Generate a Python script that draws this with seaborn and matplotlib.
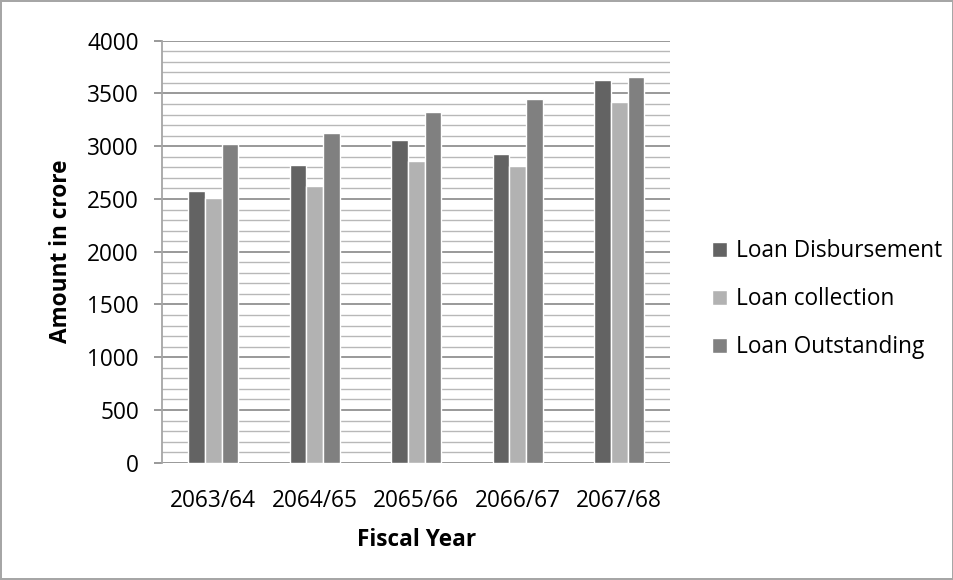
import pandas as pd
import numpy as np
import seaborn as sns
import matplotlib.pyplot as plt
from matplotlib.ticker import MultipleLocator

# data
years = ['2063/64', '2064/65', '2065/66', '2066/67', '2067/68']
disbursement = [2580, 2823, 3061, 2928, 3630]
collection = [2510, 2620, 2858, 2810, 3417]
outstanding = [3023, 3127, 3329, 3443, 3660]
series = ['Loan Disbursement', 'Loan collection', 'Loan Outstanding']

df = pd.DataFrame({
    'year': years * 3,
    'amount': disbursement + collection + outstanding,
    'series': [series[0]] * 5 + [series[1]] * 5 + [series[2]] * 5,
})

sns.set_style('white')
plt.rcParams['font.family'] = ['Open Sans', 'DejaVu Sans']
plt.rcParams['text.color'] = 'black'
plt.rcParams['axes.labelcolor'] = 'black'
plt.rcParams['xtick.color'] = 'black'
plt.rcParams['ytick.color'] = 'black'

fs = 16.3

fig = plt.figure(figsize=(9.54, 5.8), dpi=100)
fig.patch.set_edgecolor('#a6a6a6')
fig.patch.set_linewidth(1.5)
ax = fig.add_axes([0.1703, 0.2022, 0.532, 0.7276])

sns.barplot(data=df, x='year', y='amount', hue='series', hue_order=series,
            palette=['#636363', '#b2b2b2', '#808080'], width=0.49,
            saturation=1, ax=ax, zorder=3)

ax.set_ylim(0, 4000)
ax.yaxis.set_major_locator(MultipleLocator(500))
ax.yaxis.set_minor_locator(MultipleLocator(100))
ax.grid(axis='y', which='major', color='#888888', linewidth=1.2, zorder=0)
ax.grid(axis='y', which='minor', color='#b8b8b8', linewidth=1.0, zorder=0)
ax.set_axisbelow(True)

for s in ['top', 'right', 'bottom']:
    ax.spines[s].set_visible(False)
ax.spines['left'].set_color('#a6a6a6')
ax.spines['left'].set_linewidth(1.3)

ax.tick_params(axis='y', which='major', length=6, color='#888888', width=1.2,
               labelsize=fs, pad=11, left=True)
ax.tick_params(axis='y', which='minor', length=0)
ax.tick_params(axis='x', length=0, labelsize=fs, pad=19)

ax.set_xlabel('Fiscal Year', fontsize=fs, fontweight='bold', labelpad=11)
ax.set_ylabel('Amount in crore', fontsize=fs, fontweight='bold', labelpad=10)

ax.legend(loc='center left', bbox_to_anchor=(1.043, 0.387), frameon=False,
          fontsize=fs, handlelength=0.66, handleheight=0.66, labelspacing=1.06,
          handletextpad=0.37)

plt.savefig('out.png', dpi=100)
